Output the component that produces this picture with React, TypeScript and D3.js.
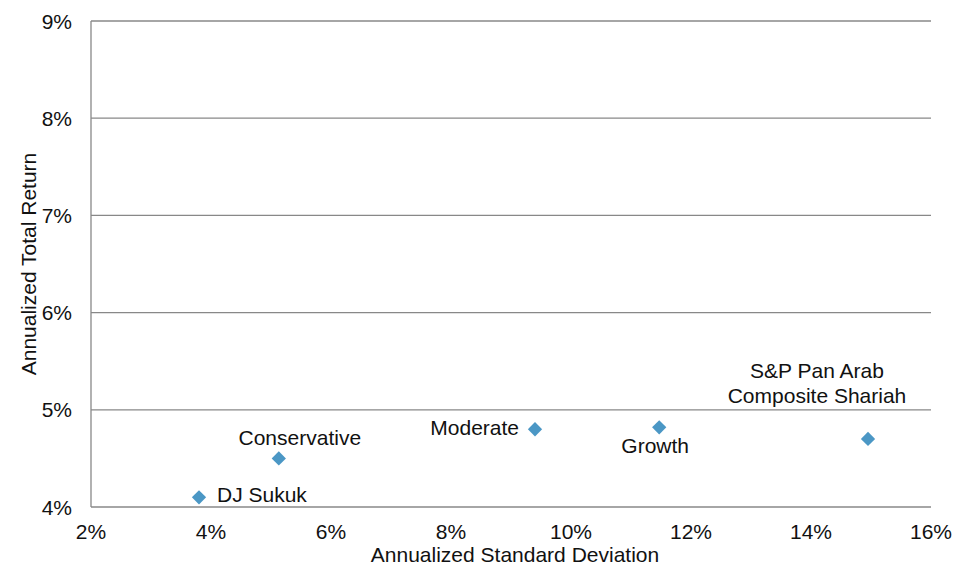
import React, { useEffect, useRef } from 'react';
import * as d3 from 'd3';

// portfolio risk / return values (percent)
const names = ['DJ Sukuk', 'Conservative', 'Moderate', 'Growth', 'S&P Pan Arab\nComposite Shariah'];
const stdDev = [3.8, 5.13, 9.4, 11.47, 14.95];
const totalReturn = [4.1, 4.5, 4.8, 4.82, 4.7];
const xTicks = [2, 4, 6, 8, 10, 12, 14, 16];
const yTicks = [4, 5, 6, 7, 8, 9];

// where each label sits relative to its marker
const labelSide = ['right', 'above', 'left', 'below', 'aboveFar'];

const App = () => {
  const ref = useRef<SVGSVGElement>(null);

  useEffect(() => {
    const svg = d3.select(ref.current);
    svg.selectAll('*').remove();
    const margin = { top: 21, right: 43, bottom: 62, left: 91 };
    const w = 974 - margin.left - margin.right;
    const h = 569 - margin.top - margin.bottom;
    const font = 'Liberation Sans, Arial, sans-serif';
    const fs = '21px';

    const x = d3.scaleLinear().domain([2, 16]).range([0, w]);
    const y = d3.scaleLinear().domain([4, 9]).range([h, 0]);

    const g = svg.append('g').attr('transform', `translate(${margin.left},${margin.top})`);

    // gridlines
    g.selectAll('.grid')
      .data(yTicks)
      .enter()
      .append('line')
      .attr('x1', 0)
      .attr('x2', w)
      .attr('y1', d => y(d))
      .attr('y2', d => y(d))
      .attr('stroke', '#888888')
      .attr('stroke-width', 1.3);

    // left axis line
    g.append('line')
      .attr('x1', 0).attr('x2', 0)
      .attr('y1', 0).attr('y2', h)
      .attr('stroke', '#888888')
      .attr('stroke-width', 1.3);

    // y tick labels
    g.selectAll('.ylab')
      .data(yTicks)
      .enter()
      .append('text')
      .attr('x', -19)
      .attr('y', d => y(d) + 7.5)
      .attr('text-anchor', 'end')
      .style('font-family', font)
      .style('font-size', fs)
      .attr('fill', '#111')
      .text(d => `${d}%`);

    // x tick labels
    g.selectAll('.xlab')
      .data(xTicks)
      .enter()
      .append('text')
      .attr('x', d => x(d))
      .attr('y', h + 32)
      .attr('text-anchor', 'middle')
      .style('font-family', font)
      .style('font-size', fs)
      .attr('fill', '#111')
      .text(d => `${d}%`);

    // axis titles
    g.append('text')
      .attr('x', w / 2 + 4)
      .attr('y', h + 55)
      .attr('text-anchor', 'middle')
      .style('font-family', font)
      .style('font-size', fs)
      .attr('fill', '#111')
      .text('Annualized Standard Deviation');
    g.append('text')
      .attr('transform', `translate(${-55},${h / 2}) rotate(-90)`)
      .attr('text-anchor', 'middle')
      .style('font-family', font)
      .style('font-size', fs)
      .attr('fill', '#111')
      .text('Annualized Total Return');

    const pts = names.map((n, i) => ({ name: n, sd: stdDev[i], ret: totalReturn[i], side: labelSide[i] }));

    // diamonds
    const diamond = d3.symbol().type(d3.symbolDiamond2).size(130);
    g.selectAll('.pt')
      .data(pts)
      .enter()
      .append('path')
      .attr('d', diamond)
      .attr('transform', d => `translate(${x(d.sd)},${y(d.ret)})`)
      .attr('fill', '#4b97c5');

    // labels
    pts.forEach(d => {
      const px = x(d.sd);
      const py = y(d.ret);
      const lines = d.name.split('\n');
      let tx = px, ty = py, anchor = 'middle';
      if (d.side === 'right') { tx = px + 18; ty = py + 5; anchor = 'start'; }
      if (d.side === 'left') { tx = px - 16; ty = py + 6; anchor = 'end'; }
      if (d.side === 'above') { tx = px + 21; ty = py - 13; }
      if (d.side === 'below') { tx = px - 4; ty = py + 26; }
      if (d.side === 'aboveFar') { tx = px - 51; ty = py - 61; }
      const t = g.append('text')
        .attr('x', tx)
        .attr('y', ty)
        .attr('text-anchor', anchor)
        .style('font-family', font)
        .style('font-size', fs)
        .attr('fill', '#111');
      lines.forEach((l, k) => {
        t.append('tspan').attr('x', tx).attr('dy', k === 0 ? 0 : 25).text(l);
      });
    });
  }, []);

  return (
    <svg ref={ref} width={974} height={569} style={{ position: 'absolute', left: 0, top: 0, background: '#fff' }} />
  );
};

export default App;
